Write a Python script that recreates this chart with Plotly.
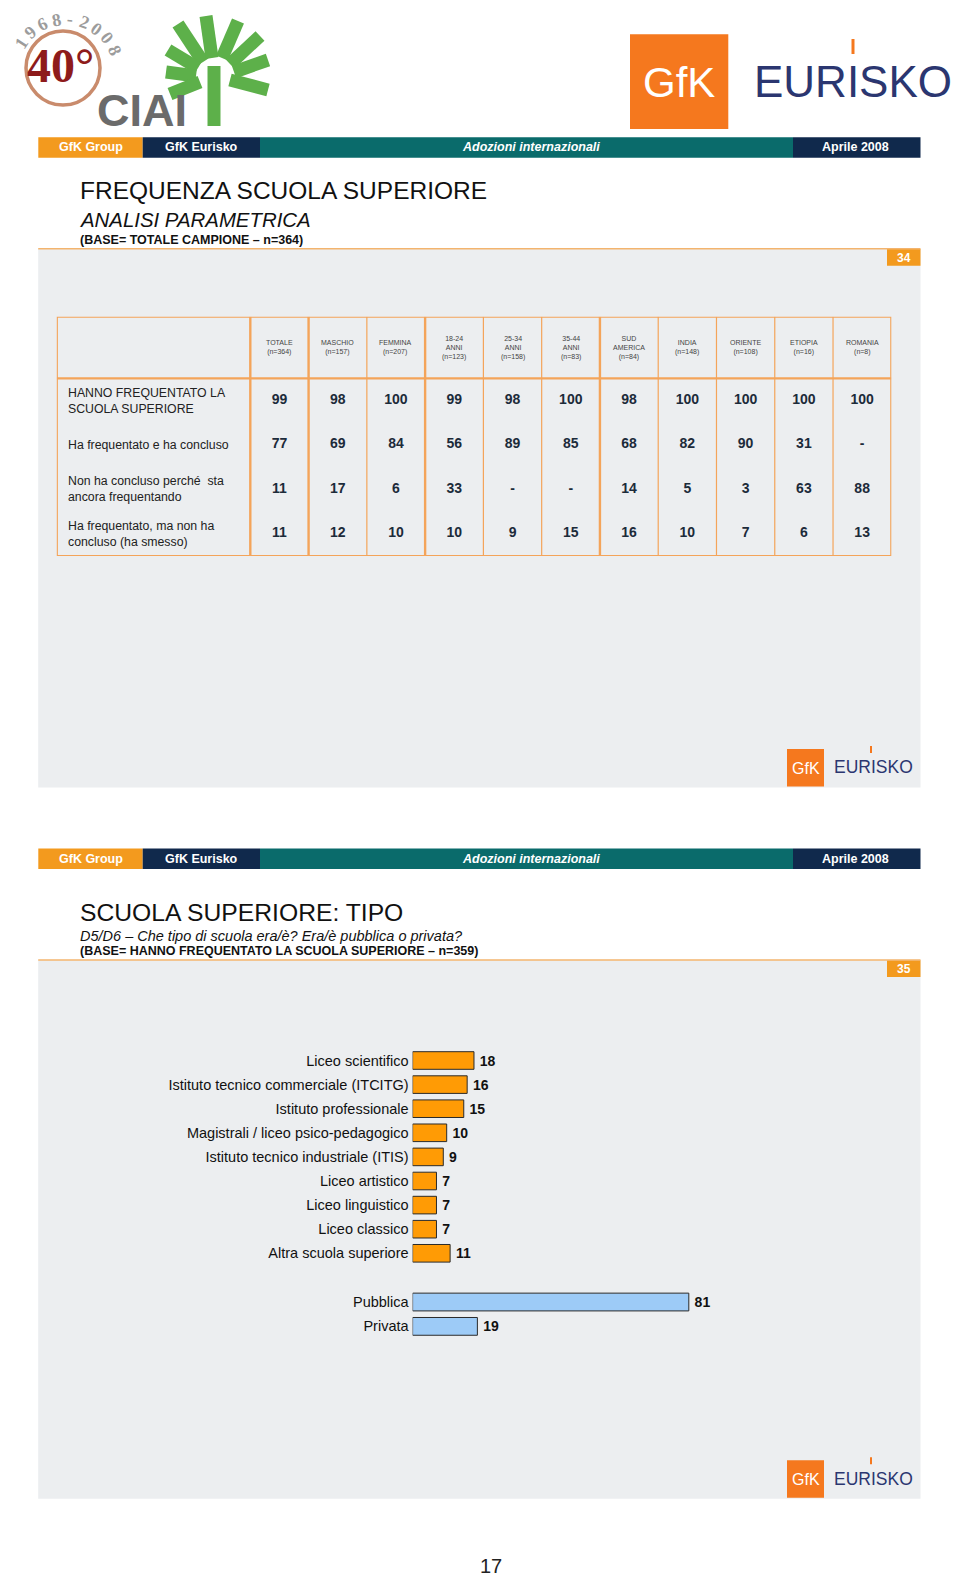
import numpy as np
import plotly.graph_objects as go

# the page body has an 8px margin, so the figure is drawn 8px in from the window corner
W, H = 952, 1569
OFF = 8

# ---- slide 34: frequenza scuola superiore (tabella) ----
columns = ["TOTALE<br>(n=364)", "MASCHIO<br>(n=157)", "FEMMINA<br>(n=207)",
           "18-24<br>ANNI<br>(n=123)", "25-34<br>ANNI<br>(n=158)", "35-44<br>ANNI<br>(n=83)",
           "SUD<br>AMERICA<br>(n=84)", "INDIA<br>(n=148)", "ORIENTE<br>(n=108)",
           "ETIOPIA<br>(n=16)", "ROMANIA<br>(n=8)"]
row_names = ["HANNO FREQUENTATO LA<br>SCUOLA SUPERIORE",
             "Ha frequentato e ha concluso",
             "Non ha concluso perché  sta<br>ancora frequentando",
             "Ha frequentato, ma non ha<br>concluso (ha smesso)"]
frequentato = [99, 98, 100, 99, 98, 100, 98, 100, 100, 100, 100]
concluso = [77, 69, 84, 56, 89, 85, 68, 82, 90, 31, None]
ancora = [11, 17, 6, 33, None, None, 14, 5, 3, 63, 88]
smesso = [11, 12, 10, 10, 9, 15, 16, 10, 7, 6, 13]
group_edges = [0, 1, 3, 6]   # thick separators before these columns

# ---- slide 35: tipo di scuola ----
tipo_scuola = ["Liceo scientifico", "Istituto tecnico commerciale (ITCITG)",
               "Istituto professionale", "Magistrali / liceo psico-pedagogico",
               "Istituto tecnico industriale (ITIS)", "Liceo artistico",
               "Liceo linguistico", "Liceo classico", "Altra scuola superiore"]
tipo_pct = [18, 16, 15, 10, 9, 7, 7, 7, 11]
gestione = ["Pubblica", "Privata"]
gestione_pct = [81, 19]

ORANGE = "#F39A1E"
NAVY = "#10294C"
TEAL = "#0A6B6B"
PANEL = "#ECEEF0"
GRID = "#F4A45A"
GFK = "#F5781E"
EUR = "#2B3670"
FONT = "Liberation Sans, Arial, sans-serif"
SERIF = "Liberation Serif, serif"

SLIDE2 = 711.2  # vertical offset of the second slide


def px(x, y):
    # window pixel -> paper coordinate
    return (x - OFF) / W, 1 - (y - OFF) / H


def dom_x(a, b):
    return [(a - OFF) / W, (b - OFF) / W]


def dom_y(top, bottom):
    return [1 - (bottom - OFF) / H, 1 - (top - OFF) / H]


shapes = []
annots = []


def rect(x0, y0, x1, y1, color, layer="below"):
    a, b = px(x0, y1)
    c, d = px(x1, y0)
    shapes.append(dict(type="rect", xref="paper", yref="paper", x0=a, y0=b, x1=c, y1=d,
                       fillcolor=color, line=dict(width=0), layer=layer))


def seg(x0, y0, x1, y1, color, width):
    a, b = px(x0, y0)
    c, d = px(x1, y1)
    shapes.append(dict(type="line", xref="paper", yref="paper", x0=a, y0=b, x1=c, y1=d,
                       line=dict(color=color, width=width)))


def text(x, y, s, size, color="#111", anchor="left", bold=False, italic=False, family=FONT, angle=0):
    a, b = px(x, y)
    if bold:
        s = "<b>" + s + "</b>"
    if italic:
        s = "<i>" + s + "</i>"
    annots.append(dict(xref="paper", yref="paper", x=a, y=b, text=s, showarrow=False,
                       xanchor=anchor, yanchor="middle", textangle=angle,
                       font=dict(size=size, color=color, family=family)))


def header_bar(y0, y1):
    segs = [(38.3, 142.7, ORANGE, "GfK Group", False, 90.5),
            (142.7, 260, NAVY, "GfK Eurisko", False, 201),
            (260, 793, TEAL, "Adozioni internazionali", True, 531),
            (793, 920.5, NAVY, "Aprile 2008", False, 855)]
    for x0, x1, c, s, it, xc in segs:
        rect(x0, y0, x1, y1, c)
        text(xc, (y0 + y1) / 2, s, 12.5, "white", "center", bold=True, italic=it)


def small_logo(dy):
    rect(787, 749 + dy, 824, 786.5 + dy, GFK)
    text(805.5, 768 + dy, "GfK", 16, "white", "center")
    text(832, 767.5 + dy, "EURISKO", 17.5, EUR)
    seg(871, 746 + dy, 871, 753 + dy, GFK, 2)


# ---- page decorations ----
# CIAI logo
a, b = px(26, 105)
c, d = px(100, 31)
shapes.append(dict(type="circle", xref="paper", yref="paper", x0=a, y0=b, x1=c, y1=d,
                   line=dict(color="#C98B6C", width=3.5)))
text(60, 65, "40°", 48, "#8E1B1B", "center", bold=True, family=SERIF)
for ch, ang in zip("1968-2008", np.linspace(147, 24, 9)):
    r = np.radians(ang)
    text(66 + 53 * np.cos(r), 72 - 53 * np.sin(r), ch, 18, "#9C9C9C", "center", bold=True,
         family=SERIF, angle=-(ang - 90))
text(142, 111, "CIAI", 45, "#6B6B6B", "center", bold=True)
leaves = [((203, 62), (178, 24)), ((212, 58), (206, 16)), ((222, 58), (238, 21)),
          ((230, 64), (260, 36)), ((234, 72), (268, 60)), ((230, 80), (268, 90)),
          ((198, 68), (168, 50)), ((196, 76), (166, 72)), ((200, 82), (170, 94))]
for (x0, y0), (x1, y1) in leaves:
    seg(x0, y0, x1, y1, "#5DB04A", 13)
seg(214, 66, 214, 126, "#5DB04A", 13)

# GfK Eurisko logo
rect(630, 34.3, 728.3, 129, GFK)
text(679, 82, "GfK", 42, "white", "center")
text(752, 81, "EURISKO", 44, EUR)
seg(853, 39, 853, 54, GFK, 3)

# slide frames
for dy, num in [(0, "34"), (SLIDE2, "35")]:
    header_bar(137.3 + dy, 157.7 + dy)
    rect(38.2, 249 + dy, 920.5, 787.5 + dy, PANEL)
    seg(38.2, 248.7 + dy, 920.5, 248.7 + dy, "#F3B46E", 1.5)
    rect(887, 249 + dy, 920.5, 265.7 + dy, ORANGE)
    text(903.7, 257.5 + dy, num, 12, "white", "center", bold=True)
    small_logo(dy)

text(78, 191, "FREQUENZA SCUOLA SUPERIORE", 24.5, "#111")
text(78, 220, "ANALISI PARAMETRICA", 20.4, "#111", italic=True)
text(78, 240.4, "(BASE= TOTALE CAMPIONE – n=364)", 12.5, "#111", bold=True)

text(78, 912.2, "SCUOLA SUPERIORE: TIPO", 24.7, "#111")
text(78, 936.3, "D5/D6 – Che tipo di scuola era/è? Era/è pubblica o privata?", 14.5, "#111", italic=True)
text(78, 951.4, "(BASE= HANNO FREQUENTATO LA SCUOLA SUPERIORE – n=359)", 12.5, "#111", bold=True)

text(491, 1566, "17", 20, "#222", "center")

fig = go.Figure()

# ---- table (slide 34) ----
ncol = len(columns)
head_h = 61.6 / 44.4           # header row height in data-row units
x_left = -0.5 - 193.6 / 58.3   # label column
y_top = -0.5 - head_h
for i, vals in enumerate([frequentato, concluso, ancora, smesso]):
    fig.add_trace(go.Scatter(
        x=list(range(ncol)), y=[i] * ncol, mode="text",
        text=["-" if v is None else str(v) for v in vals],
        textfont=dict(size=14, color="#1C2B3A", family=FONT, weight="bold"),
        hoverinfo="skip", showlegend=False, xaxis="x", yaxis="y"))
    annots.append(dict(xref="paper", yref="y", x=(66.4 - OFF) / W, y=i, text=row_names[i],
                       showarrow=False, xanchor="left", yanchor="middle", align="left",
                       font=dict(size=12.3, color="#222", family=FONT)))
for j, lab in enumerate(columns):
    annots.append(dict(xref="x", yref="y", x=j, y=(y_top - 0.5) / 2, text=lab,
                       showarrow=False, xanchor="center", yanchor="middle", align="center",
                       font=dict(size=7, color="#444", family=FONT)))

shapes.append(dict(type="rect", xref="x", yref="y", x0=x_left, x1=ncol - 0.5,
                   y0=y_top, y1=len(row_names) - 0.5, line=dict(color=GRID, width=2.2)))
shapes.append(dict(type="line", xref="x", yref="y", x0=x_left, x1=ncol - 0.5,
                   y0=-0.5, y1=-0.5, line=dict(color=GRID, width=2.2)))
for k in range(ncol):
    shapes.append(dict(type="line", xref="x", yref="y", x0=k - 0.5, x1=k - 0.5,
                       y0=y_top, y1=len(row_names) - 0.5,
                       line=dict(color=GRID, width=2.4 if k in group_edges else 1.2)))

# ---- bars (slide 35) ----
fig.add_trace(go.Bar(
    x=tipo_pct, y=tipo_scuola, orientation="h", xaxis="x2", yaxis="y2",
    marker=dict(color="#FF9B05", line=dict(color="#2A2A2A", width=1)), width=0.73,
    text=["\u2009" + str(v) for v in tipo_pct], textposition="outside", constraintext="none",
    textfont=dict(size=14, color="#111", family=FONT, weight="bold"),
    cliponaxis=False, hoverinfo="skip", showlegend=False))
fig.add_trace(go.Bar(
    x=gestione_pct, y=gestione, orientation="h", xaxis="x3", yaxis="y3",
    marker=dict(color="#9DCBF7", line=dict(color="#2A2A2A", width=1)), width=0.73,
    text=["\u2009" + str(v) for v in gestione_pct], textposition="outside", constraintext="none",
    textfont=dict(size=14, color="#111", family=FONT, weight="bold"),
    cliponaxis=False, hoverinfo="skip", showlegend=False))

hidden = dict(visible=False, fixedrange=True)
bar_y = dict(type="category", autorange="reversed", showgrid=False, zeroline=False,
             showline=False, ticks="", tickfont=dict(size=14.5, color="#111", family=FONT),
             ticklabelstandoff=3, fixedrange=True)

fig.update_layout(
    width=W, height=H, margin=dict(l=0, r=0, t=0, b=0),
    paper_bgcolor="white", plot_bgcolor="rgba(0,0,0,0)",
    font=dict(family=FONT), showlegend=False,
    xaxis=dict(domain=dom_x(56.8, 891.3), range=[x_left, ncol - 0.5], **hidden),
    yaxis=dict(domain=dom_y(316.7, 556), range=[len(row_names) - 0.5, y_top], **hidden),
    xaxis2=dict(domain=dom_x(412.6, 753.6), range=[0, 100], anchor="y2", **hidden),
    yaxis2=dict(domain=dom_y(1048.45, 1265.35), anchor="x2", **bar_y),
    xaxis3=dict(domain=dom_x(412.6, 753.6), range=[0, 100], anchor="y3", **hidden),
    yaxis3=dict(domain=dom_y(1289.85, 1338.55), anchor="x3", **bar_y),
    shapes=shapes, annotations=annots,
)

fig.write_html("out.html")
